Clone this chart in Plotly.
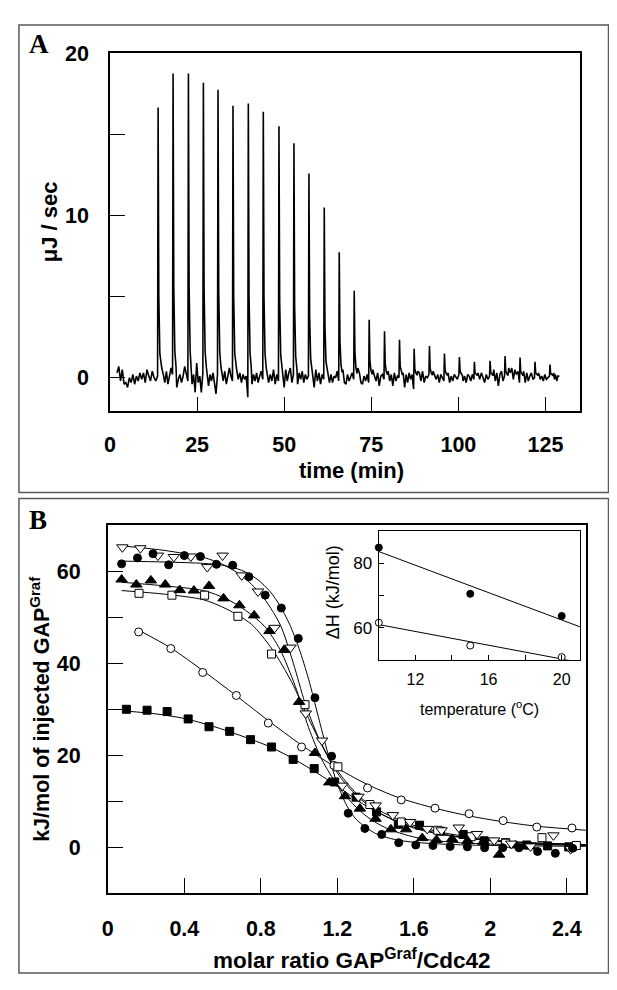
import numpy as np
import plotly.graph_objects as go

# ---------------- Panel A data (ITC thermogram) ----------------
peak_times = [13.8, 18.1, 22.5, 26.8, 31.0, 35.3, 39.7, 44.0, 48.5, 52.8, 57.1, 61.5, 65.8, 70.1,
              74.4, 78.8, 83.1, 87.3, 91.7, 96.0, 100.3, 104.6, 109.1, 113.4, 117.7, 122.0, 126.3]
peak_heights = [16.66, 18.76, 18.76, 18.19, 17.76, 16.76, 16.9, 16.4, 15.5, 14.46, 12.59, 10.5, 7.74, 5.36,
                3.58, 2.87, 2.34, 1.79, 1.96, 1.49, 1.28, 0.98, 1.04, 1.34, 1.24, 0.98, 0.81]
trace_start = 2.0
trace_end = 129.0
pre_noise = [0.3, 0.7, -0.2, 0.5, -0.4, -0.3, -0.6, 0.0, -0.3, 0.2, -0.4, 0.1, -0.2, 0.3, -0.1, 0.3,
             -0.3, 0.5, 0.1, -0.2, 0.4, 0.0, -0.2, 0.1]
baseline_noise = [
    0.6, 0.2, -0.3, 0.4, -0.4, 0.1, 0.6, 0.2,
    -0.6, -0.1, 0.2, -0.3, 0.1, 0.7, 0.3, -0.2,
    -0.4, 0.2, -0.9, 0.9, -0.3, 0.1, -0.9, 0.3,
    0.3, -0.5, 0.2, -0.2, 0.3, -0.3, -1.0, 0.2,
    0.3, -0.2, 0.4, -0.4, 0.1, 0.6, 0.1, -0.2,
    0.5, -0.1, 0.3, -0.3, 0.2, -0.1, 0.1, -1.2,
    -0.4, 0.2, -0.2, 0.3, -0.3, 0.1, 0.4, -0.1,
    0.3, -0.3, 0.2, -0.2, 0.5, -0.4, 0.2, -0.2,
    0.6, -0.6, 0.5, -0.2, 0.3, 0.6, -0.3, 0.2,
    -0.4, 0.3, -0.1, 0.4, -0.3, 0.2, -0.1, 0.1,
    0.4, -0.6, 0.5, -0.2, 0.3, -0.4, 0.2, -0.1,
    0.3, -0.3, 0.2, -0.3, 0.1, 0.0, 0.4, -0.2,
    0.5, -0.3, -0.4, 0.2, -0.2, 0.1, 0.3, -0.1,
    0.6, 0.3, -0.3, -0.4, 0.1, -0.2, 0.2, -0.3,
    0.5, 0.1, -0.2, 0.3, -0.5, 0.1, 0.2, -0.1,
    0.4, -0.2, 0.2, -0.5, 0.3, -0.2, 0.1, 0.0,
    0.3, -0.6, 0.2, -0.3, 0.3, -0.1, 0.2, -0.7,
    0.4, 0.3, -0.2, 0.4, -0.3, 0.1, 0.0, 0.2,
    0.4, 0.2, -0.1, 0.2, -0.3, 0.2, 0.0, -0.2,
    0.3, -0.3, 0.1, -0.2, 0.2, 0.0, -0.1, 0.2,
    -0.2, 0.1, -0.3, 0.2, 0.1, -0.2, 0.2, -0.1,
    0.3, -0.1, 0.3, 0.0, -0.3, 0.2, -0.1, 0.1,
    0.5, -0.2, 0.3, -0.5, 0.2, 0.4, -0.2, 0.1,
    0.6, 0.3, 0.6, -0.1, 0.5, 0.2, 0.4, -0.3,
    0.4, -0.3, 0.3, -0.2, 0.1, 0.3, -0.1, 0.0,
    0.3, -0.1, 0.1, -0.2, 0.2, -0.1, 0.0, 0.1,
    0.3, -0.1, 0.2, 0.0, -0.2, 0.1, 0.1, 0.1,
]

# ---------------- Panel B data (integrated heats) ----------------
fc_x = [0.072, 0.155, 0.236, 0.318, 0.40, 0.484, 0.568, 0.653, 0.738, 0.823, 0.907, 0.996, 1.083, 1.17,
        1.257, 1.344, 1.432, 1.521, 1.61, 1.70, 1.79, 1.88, 1.97, 2.065, 2.15, 2.247, 2.34, 2.43]
fc_y = [61.6, 62.9, 63.8, 61.4, 63.4, 63.2, 61.5, 61.3, 58.8, 54.8, 52.0, 45.4, 32.5, 19.8,
        7.4, 4.1, 2.8, 1.0, 0.5, 0.4, 0.2, 0.1, -0.1, -0.1, -0.1, -0.9, -1.3, -0.2]
fc_fit_x = [0.072, 0.3, 0.5, 0.6, 0.7, 0.78, 0.85, 0.9, 0.95, 1.0, 1.05, 1.1, 1.15, 1.2, 1.25, 1.3, 1.4,
            1.5, 1.6, 1.8, 2.0, 2.5]
fc_fit_y = [62.2, 62.0, 61.7, 61.3, 60.2, 58.3, 55.5, 52.5, 48.5, 43.2, 36.5, 28.5, 20.5, 13.8, 9.0, 6.0,
            3.0, 1.7, 1.1, 0.6, 0.4, 0.2]

td_x = [0.076, 0.17, 0.262, 0.345, 0.434, 0.52, 0.60, 0.70, 0.785, 0.872, 0.955, 1.035, 1.12, 1.226,
        1.31, 1.40, 1.49, 1.58, 1.67, 1.745, 1.835, 1.93, 2.02, 2.11, 2.21, 2.33, 2.42]
td_y = [65.2, 65.0, 63.4, 63.1, 63.2, 60.9, 63.4, 59.1, 55.6, 47.7, 43.4, 29.1, 23.2, 13.4,
        11.0, 9.1, 7.0, 5.5, 4.0, 3.7, 4.3, 2.9, 1.5, 0.8, 0.2, 2.6, -0.4]
td_fit_x = [0.076, 0.3, 0.5, 0.6, 0.7, 0.8, 0.9, 0.97, 1.03, 1.1, 1.17, 1.25, 1.33, 1.42, 1.52, 1.62,
            1.75, 1.9, 2.05, 2.2, 2.5]
td_fit_y = [65.5, 64.5, 63.0, 61.5, 59.0, 55.0, 48.5, 40.0, 31.5, 24.0, 18.5, 14.0, 10.5, 8.0, 6.0, 4.5,
            3.2, 2.2, 1.5, 1.0, 0.6]

ft_x = [0.072, 0.149, 0.225, 0.30, 0.376, 0.45, 0.529, 0.605, 0.688, 0.765, 0.845, 0.922, 1.0, 1.083,
        1.158, 1.24, 1.318, 1.40, 1.48, 1.56, 1.644, 1.718, 1.80, 1.881, 1.964, 2.046, 2.13, 2.21, 2.42]
ft_y = [58.2, 57.1, 58.0, 57.1, 55.9, 55.8, 56.8, 54.1, 52.6, 50.4, 47.0, 42.9, 31.6, 20.5,
        14.1, 11.1, 8.4, 6.2, 3.9, 3.9, 2.0, 1.6, 1.8, 1.4, 1.2, -1.6, 0.4, 0.2, -0.2]
ft_fit_x = [0.072, 0.3, 0.5, 0.62, 0.72, 0.82, 0.9, 0.98, 1.05, 1.12, 1.2, 1.28, 1.36, 1.45, 1.55, 1.65,
            1.8, 2.0, 2.5]
ft_fit_y = [57.6, 56.8, 55.8, 54.0, 51.5, 48.0, 43.0, 35.0, 26.0, 19.0, 13.5, 9.5, 6.5, 4.3, 2.8, 1.8,
            1.1, 0.7, 0.5]

os_x = [0.163, 0.335, 0.506, 0.68, 0.856, 1.031, 1.203, 1.37, 1.535, 1.725, 1.90, 2.08, 2.27, 2.45]
os_y = [55.2, 54.8, 54.8, 50.2, 42.0, 31.0, 17.5, 9.3, 5.5, 3.7, 2.3, 0.9, 2.1, 0.4]
os_fit_x = [0.072, 0.3, 0.5, 0.62, 0.75, 0.86, 0.96, 1.05, 1.14, 1.22, 1.32, 1.42, 1.53, 1.65, 1.8, 2.0,
            2.2, 2.5]
os_fit_y = [55.8, 55.0, 53.8, 51.8, 48.5, 43.0, 36.0, 28.0, 20.5, 15.0, 10.5, 7.5, 5.2, 3.6, 2.4, 1.5,
            1.0, 0.6]

oc_x = [0.161, 0.329, 0.496, 0.672, 0.839, 1.013, 1.182, 1.358, 1.534, 1.711, 1.889, 2.067, 2.243, 2.427]
oc_y = [46.8, 43.2, 38.0, 33.0, 27.0, 21.8, 17.8, 12.9, 10.3, 8.5, 7.3, 5.8, 4.4, 4.2]
oc_fit_x = [0.161, 0.33, 0.5, 0.67, 0.84, 1.01, 1.18, 1.35, 1.52, 1.7, 1.88, 2.06, 2.24, 2.5]
oc_fit_y = [47.2, 43.3, 38.3, 33.0, 27.5, 22.3, 17.7, 13.8, 10.8, 8.6, 6.9, 5.6, 4.6, 3.7]

fs_x = [0.097, 0.205, 0.31, 0.42, 0.529, 0.637, 0.746, 0.856, 0.969, 1.079, 1.186, 1.298, 1.405, 1.519,
        1.63, 1.74, 1.858, 1.968, 2.08, 2.19, 2.30, 2.41]
fs_y = [30.0, 29.8, 29.5, 27.9, 26.2, 25.2, 23.4, 21.8, 19.1, 17.1, 14.2, 10.9, 7.7, 5.0,
        4.8, 3.5, 2.8, 1.4, 1.0, 0.5, 0.3, 0.1]
fs_fit_x = [0.097, 0.25, 0.4, 0.55, 0.7, 0.85, 0.98, 1.1, 1.22, 1.33, 1.45, 1.57, 1.7, 1.85, 2.0, 2.2, 2.5]
fs_fit_y = [29.6, 29.0, 28.0, 26.3, 24.2, 21.8, 19.0, 16.0, 12.7, 9.5, 6.8, 4.8, 3.3, 2.2, 1.4, 0.8, 0.4]

# ---------------- Inset data ----------------
inset_temp = [10, 15, 20]
inset_dh_filled = [84.9, 70.5, 63.6]
inset_dh_open = [61.5, 54.4, 50.8]

# ---------------- Build thermogram trace ----------------
tx, ty = [], []
n_pre = len(pre_noise)
pre_end = peak_times[0] - 0.15
for k, v in enumerate(pre_noise):
    tx.append(trace_start + k * (pre_end - trace_start) / (n_pre - 1))
    ty.append(v)
per_gap = 8
for i, (t, h) in enumerate(zip(peak_times, peak_heights)):
    tx += [t, t + 0.2, t + 0.5, t + 0.85]
    ty += [h, 0.3 * h, 0.08 * h + 0.15, 0.03 * h + 0.1]
    g_start = t + 1.05
    g_end = (peak_times[i + 1] - 0.15) if i + 1 < len(peak_times) else trace_end
    vals = baseline_noise[i * per_gap:(i + 1) * per_gap]
    for k, v in enumerate(vals):
        tx.append(g_start + k * (g_end - g_start) / (per_gap - 1))
        ty.append(v)

fig = go.Figure()
fig.add_trace(go.Scatter(x=tx, y=ty, mode="lines", line=dict(color="black", width=1.6),
                         xaxis="x", yaxis="y", showlegend=False))

# ---------------- Panel B traces ----------------
for fx, fy in [(fs_fit_x, fs_fit_y), (oc_fit_x, oc_fit_y), (os_fit_x, os_fit_y),
               (ft_fit_x, ft_fit_y), (td_fit_x, td_fit_y), (fc_fit_x, fc_fit_y)]:
    fig.add_trace(go.Scatter(x=fx, y=fy, mode="lines",
                             line=dict(color="black", width=1.0, shape="spline", smoothing=0.8),
                             xaxis="x2", yaxis="y2", showlegend=False))


def mk(x, y, symbol, fill, size):
    return go.Scatter(x=x, y=y, mode="markers", xaxis="x2", yaxis="y2", showlegend=False,
                      marker=dict(symbol=symbol, size=size, color=fill,
                                  line=dict(color="black", width=1)))


fig.add_trace(mk(fs_x, fs_y, "square", "black", 8))
fig.add_trace(mk(oc_x, oc_y, "circle", "white", 8))
fig.add_trace(mk(os_x, os_y, "square", "white", 8))
fig.add_trace(mk(ft_x, ft_y, "triangle-up", "black", 10))
fig.add_trace(mk(td_x, td_y, "triangle-down", "white", 10))
fig.add_trace(mk(fc_x, fc_y, "circle", "black", 8))

# ---------------- Inset traces ----------------
line_x = [10, 21]
for dh in [inset_dh_filled, inset_dh_open]:
    p = np.polyfit(inset_temp, dh, 1)
    fig.add_trace(go.Scatter(x=line_x, y=list(np.polyval(p, line_x)), mode="lines",
                             line=dict(color="black", width=1), xaxis="x3", yaxis="y3", showlegend=False))
fig.add_trace(go.Scatter(x=inset_temp, y=inset_dh_filled, mode="markers", xaxis="x3", yaxis="y3",
                         showlegend=False, cliponaxis=False,
                         marker=dict(symbol="circle", size=7, color="black", line=dict(color="black", width=1))))
fig.add_trace(go.Scatter(x=inset_temp, y=inset_dh_open, mode="markers", xaxis="x3", yaxis="y3",
                         showlegend=False, cliponaxis=False,
                         marker=dict(symbol="circle", size=7, color="white", line=dict(color="black", width=1))))

# ---------------- Layout ----------------
# the page body has an 8 px margin; positions below are in window pixels
OFF = 8
FW, FH = 601, 974


def px_x(v):
    return (v - OFF) / FW


def px_y(v):
    return 1 - (v - OFF) / FH


bold = dict(family="Liberation Sans, Arial, sans-serif", size=21.5, color="black", weight="bold")
reg = dict(family="Liberation Sans, Arial, sans-serif", size=16, color="black")

axis_common = dict(showline=True, mirror=True, linecolor="black", linewidth=1.6, ticks="inside",
                   tickcolor="black", tickwidth=1.4, showgrid=False, zeroline=False)
inset_common = dict(showline=True, mirror=True, linecolor="black", linewidth=1.3, ticks="inside",
                    tickcolor="black", tickwidth=1, showgrid=False, zeroline=False)


def ann(text, x, y, font, angle=0):
    return dict(text=text, x=px_x(x), y=px_y(y), xref="paper", yref="paper", showarrow=False,
                xanchor="center", yanchor="middle", textangle=angle, font=font)


serif = dict(family="Liberation Serif, Times New Roman, serif", size=27, color="black", weight="bold")

fig.update_layout(
    width=FW, height=FH, margin=dict(l=0, r=0, t=0, b=0),
    paper_bgcolor="white", plot_bgcolor="white",
    xaxis=dict(domain=[px_x(105), px_x(580)], range=[0, 135], anchor="y",
               tickvals=[0, 25, 50, 75, 100, 125], ticklen=14, tickfont=bold, ticklabelstandoff=14,
               **axis_common),
    yaxis=dict(domain=[px_y(404.3), px_y(42.7)], range=[-2.04, 20], anchor="x",
               tickvals=[0, 5, 10, 15, 20], ticktext=["0", "", "10", "", "20"], ticklen=15,
               tickfont=bold, ticklabelstandoff=15, **axis_common),
    xaxis2=dict(domain=[px_x(102.8), px_x(585.7)], range=[0, 2.5], anchor="y2",
                tickvals=[0, 0.4, 0.8, 1.2, 1.6, 2.0, 2.4],
                ticktext=["0", "0.4", "0.8", "1.2", "1.6", "2", "2.4"],
                ticklen=16, tickfont=bold, ticklabelstandoff=15, **axis_common),
    yaxis2=dict(domain=[px_y(892.3), px_y(520)], range=[-10, 70], anchor="x2",
                tickvals=[0, 10, 20, 30, 40, 50, 60], ticktext=["0", "", "20", "", "40", "", "60"],
                ticklen=15, tickfont=bold, ticklabelstandoff=21, **axis_common),
    xaxis3=dict(domain=[px_x(376.5), px_x(579.7)], range=[10, 21], anchor="y3",
                tickvals=[12, 14, 16, 18, 20], ticktext=["12", "", "16", "", "20"], ticklen=5,
                tickfont=reg, ticklabelstandoff=5, **inset_common),
    yaxis3=dict(domain=[px_y(656), px_y(526)], range=[50, 90], anchor="x3",
                tickvals=[60, 70, 80], ticktext=["60", "", "80"], ticklen=5,
                tickfont=dict(reg, size=17), ticklabelstandoff=2, **inset_common),
    shapes=[
        dict(type="rect", xref="paper", yref="paper", x0=px_x(13), x1=px_x(608.5), y0=px_y(487),
             y1=px_y(14), line=dict(color="#5a5a5a", width=1.5)),
        dict(type="rect", xref="paper", yref="paper", x0=px_x(13), x1=px_x(608.5), y0=px_y(973),
             y1=px_y(493), line=dict(color="#5a5a5a", width=1.5)),
    ],
    annotations=[
        ann("A", 33, 33, serif),
        ann("B", 32, 515, serif),
        ann("μJ / sec", 44, 213, dict(bold, size=22), -90),
        ann("time (min)", 349, 465, dict(bold, size=22)),
        ann("kJ/mol of injected GAP<sup>Graf</sup>", 34, 706, dict(bold, size=21.5), -90),
        ann("molar ratio GAP<sup>Graf</sup>/Cdc42", 349, 959, dict(bold, size=22.5)),
        ann("temperature (<sup>o</sup>C)", 478, 705, dict(reg, size=16)),
        ann("ΔH (kJ/mol)", 331, 588, dict(reg, size=18), -90),
    ],
)

fig.write_html("out.html")
